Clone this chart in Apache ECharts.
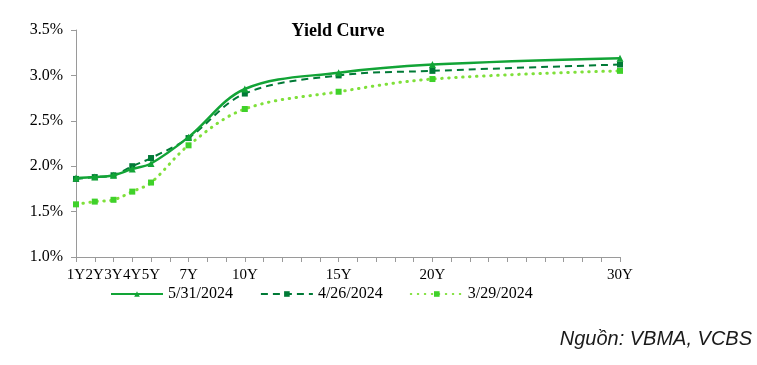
<!DOCTYPE html>
<html>
<head>
<meta charset="utf-8">
<script src="https://cdn.jsdelivr.net/npm/echarts@6/dist/echarts.min.js"></script>
<style>
html,body{margin:0;padding:0;background:#fff;}
#chart{width:757px;height:365px;}
</style>
</head>
<body>
<div id="chart"></div>
<script>
const tenors = [1, 2, 3, 4, 5, 7, 10, 15, 20, 30];
const tenorLabels = ['1Y','2Y','3Y','4Y','5Y','7Y','10Y','15Y','20Y','30Y'];
const seriesNames = ['5/31/2024', '4/26/2024', '3/29/2024'];
const y0531 = [1.87, 1.88, 1.90, 1.97, 2.03, 2.32, 2.85, 3.03, 3.12, 3.19];
const y0426 = [1.86, 1.88, 1.90, 2.00, 2.09, 2.31, 2.80, 3.00, 3.05, 3.12];
const y0329 = [1.58, 1.61, 1.63, 1.72, 1.82, 2.23, 2.63, 2.82, 2.96, 3.05];
const yTicks = [1.0, 1.5, 2.0, 2.5, 3.0, 3.5];

const pairs = arr => tenors.map((t, i) => [t, arr[i]]);
const serif = 'Liberation Serif';

const chart = echarts.init(document.getElementById('chart'));
chart.setOption({
  animation: false,
  title: {
    text: 'Yield Curve',
    left: 333, top: 17, textAlign: 'center',
    textStyle: {fontFamily: serif, fontWeight: 'bold', fontSize: 18, color: '#000'}
  },
  graphic: [{
    type: 'text', right: 5, top: 329,
    style: {text: 'Nguồn: VBMA, VCBS', font: 'italic 20px "Liberation Sans"', fill: '#1a1a1a'}
  }],
  legend: {
    left: 105, top: 281, itemWidth: 52, itemHeight: 7, itemGap: 27,
    textStyle: {fontFamily: serif, fontSize: 16, color: '#000'},
    data: seriesNames
  },
  grid: {left: 76, right: 137, top: 30, bottom: 108, containLabel: false},
  xAxis: {
    type: 'value', min: 1, max: 30, interval: 1,
    splitLine: {show: false},
    axisLine: {lineStyle: {color: '#9a9a9a', width: 1}},
    axisTick: {show: true, inside: false, length: 5, lineStyle: {color: '#9a9a9a'}},
    axisLabel: {
      margin: 11, color: '#000', fontFamily: serif, fontSize: 15, showMinLabel: true, showMaxLabel: true,
      formatter: v => { const i = tenors.indexOf(v); return i >= 0 ? tenorLabels[i] : ''; }
    }
  },
  yAxis: {
    type: 'value', min: yTicks[0], max: yTicks[yTicks.length-1], interval: 0.5,
    splitLine: {show: false},
    axisLine: {show: true, lineStyle: {color: '#9a9a9a', width: 1}},
    axisTick: {show: true, length: 5, lineStyle: {color: '#9a9a9a'}},
    axisLabel: {margin: 13, color: '#000', fontFamily: serif, fontSize: 16, formatter: v => v.toFixed(1) + '%'}
  },
  series: [
    {
      name: seriesNames[0], type: 'line', data: pairs(y0531), smooth: 0.35, z: 4,
      symbol: 'triangle', symbolSize: 7,
      lineStyle: {color: '#12a436', width: 2.5},
      itemStyle: {color: '#12a436'}
    },
    {
      name: seriesNames[1], type: 'line', data: pairs(y0426), smooth: 0.35, z: 3,
      symbol: 'rect', symbolSize: 6,
      lineStyle: {color: '#007a36', width: 2, type: [7, 5]},
      itemStyle: {color: '#007a36'}
    },
    {
      name: seriesNames[2], type: 'line', data: pairs(y0329), smooth: 0.35, z: 2,
      symbol: 'rect', symbolSize: 6,
      lineStyle: {color: '#7fe03a', width: 3, type: [0.5, 6.5], cap: 'round'},
      itemStyle: {color: '#3fd12a'}
    }
  ]
});
</script>
</body>
</html>
